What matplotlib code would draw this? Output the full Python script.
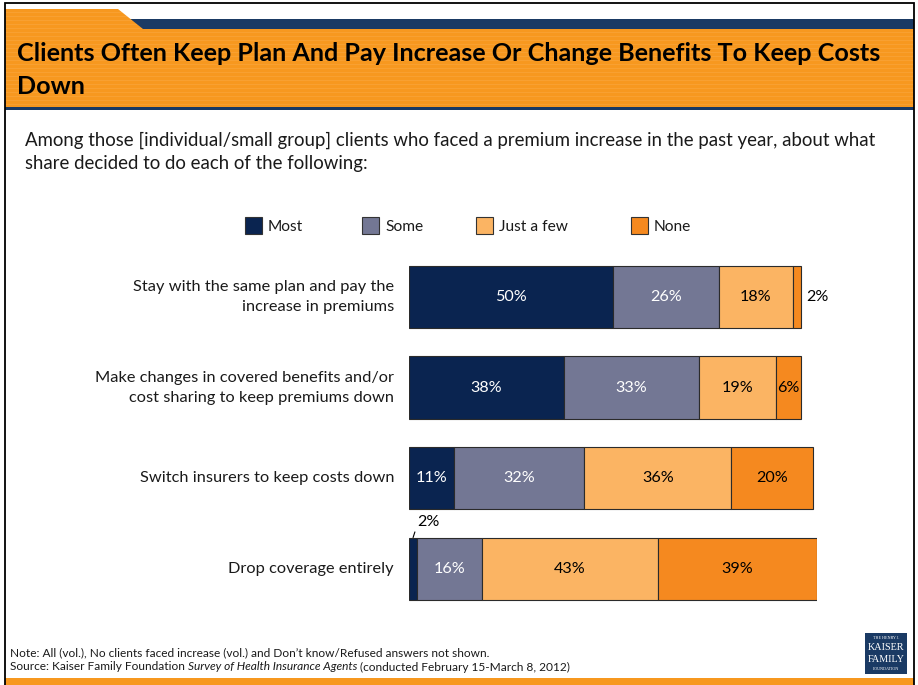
import matplotlib
matplotlib.use("Agg")
import matplotlib.pyplot as plt
from matplotlib.patches import Rectangle, Polygon

plt.rcParams['font.family'] = ['Lato', 'DejaVu Sans']

categories = [
    "Stay with the same plan and pay the\nincrease in premiums",
    "Make changes in covered benefits and/or\ncost sharing to keep premiums down",
    "Switch insurers to keep costs down",
    "Drop coverage entirely",
]
series_names = ["Most", "Some", "Just a few", "None"]
most = [50, 38, 11, 2]
some = [26, 33, 32, 16]
just_a_few = [18, 19, 36, 43]
none = [2, 6, 20, 39]
series_values = [most, some, just_a_few, none]
series_colors = ["#0a2450", "#737794", "#fbb463", "#f5891f"]
label_colors = ["white", "white", "black", "black"]

title = "Clients Often Keep Plan And Pay Increase Or Change Benefits To Keep Costs\nDown"
subtitle = ("Among those [individual/small group] clients who faced a premium increase in the past year, about what\n"
            "share decided to do each of the following:")

W, H = 918, 685
RIGHT = 914
fig = plt.figure(figsize=(W / 100, H / 100), dpi=100)

# Page furniture drawn in pixel coordinates
bg = fig.add_axes([0, 0, 1, 1])
bg.set_xlim(0, W)
bg.set_ylim(H, 0)
bg.axis("off")

header_orange = "#f7981f"
navy = "#1a3a64"
bg.add_patch(Rectangle((120, 19), RIGHT - 120, 10, facecolor=navy, edgecolor="none"))
bg.add_patch(Polygon([(5, 9), (118, 9), (143, 29), (143, 107), (5, 107)],
                     closed=True, facecolor=header_orange, edgecolor="none"))
bg.add_patch(Rectangle((5, 29), RIGHT - 5, 78, facecolor=header_orange, edgecolor="none"))
for yy in range(12, 106, 4):
    x0 = 5
    x1 = RIGHT if yy >= 29 else 118 + (143 - 118) * (yy - 9) / 20
    bg.add_patch(Rectangle((x0, yy), x1 - x0, 1.2, facecolor="#fbab48", edgecolor="none", alpha=0.45))
bg.add_patch(Rectangle((5, 107), RIGHT - 5, 3, facecolor=navy, edgecolor="none"))
bg.add_patch(Rectangle((5, 678), RIGHT - 5, 7, facecolor=header_orange, edgecolor="none"))
bg.plot([5, 5, RIGHT, RIGHT], [685, 3, 3, 685], color="black", lw=1.3, solid_joinstyle="miter")

bg.text(17, 70, title, fontsize=18.1, fontweight="bold", color="black",
        va="center", ha="left", linespacing=1.55)
bg.text(25, 152, subtitle, fontsize=13.4, color="#1a1a1a", va="center", ha="left",
        linespacing=1.45)

# Legend
legend_x = [245, 362, 476, 631]
for name, color, lx in zip(series_names, series_colors, legend_x):
    bg.add_patch(Rectangle((lx, 217), 17, 17, facecolor=color, edgecolor="#333333", lw=0.8))
    bg.text(lx + 23, 226.5, name, fontsize=11.2, va="center", ha="left", color="#1a1a1a")

# Footer
fs_foot = 8.55
bg.text(10, 653, "Note: All (vol.), No clients faced increase (vol.) and Don\u2019t know/Refused answers not shown.",
        fontsize=fs_foot, va="center", ha="left", color="#1a1a1a")
src = bg.text(10, 667, "Source: Kaiser Family Foundation ", fontsize=fs_foot, va="center", ha="left", color="#1a1a1a")
fig.canvas.draw()
r = fig.canvas.get_renderer()
bb = src.get_window_extent(r)
it = bg.annotate("Survey of Health Insurance Agents", xy=(bb.x1, H - 667), xycoords="figure pixels",
                 fontsize=fs_foot, style="italic", va="center", ha="left", color="#1a1a1a")
bb2 = it.get_window_extent(r)
bg.annotate(" (conducted February 15-March 8, 2012)", xy=(bb2.x1, H - 667), xycoords="figure pixels",
            fontsize=fs_foot, va="center", ha="left", color="#1a1a1a")

# Logo
bg.add_patch(Rectangle((865, 633), 42, 41, facecolor=navy, edgecolor="none"))
bg.text(886, 638, "THE HENRY J.", fontsize=3.0, color="white", ha="center", va="center", family="Liberation Serif")
bg.text(886, 647, "KAISER", fontsize=7.3, color="white", ha="center", va="center", family="Liberation Serif")
bg.text(886, 659, "FAMILY", fontsize=7.3, color="white", ha="center", va="center", family="Liberation Serif")
bg.text(886, 669, "FOUNDATION", fontsize=3.0, color="white", ha="center", va="center", family="Liberation Serif")

# Chart axes
ax_left, ax_right = 409, 817
ax_top, ax_bottom = 251.7, 614.1
ax = fig.add_axes([ax_left / W, (H - ax_bottom) / H, (ax_right - ax_left) / W, (ax_bottom - ax_top) / H])
ax.set_xlim(0, 100)
ax.set_ylim(3.5, -0.5)
ax.axis("off")
ax.patch.set_alpha(0)

ypos = list(range(len(categories)))
bar_h = 0.69
left = [0] * len(categories)
for vals, color, tcolor in zip(series_values, series_colors, label_colors):
    ax.barh(ypos, vals, left=left, height=bar_h, color=color, edgecolor="#2b2b2b", linewidth=0.8)
    for i, v in enumerate(vals):
        if v >= 5:
            ax.text(left[i] + v / 2, ypos[i], f"{v}%", ha="center", va="center",
                    fontsize=11.6, color=tcolor)
    left = [l + v for l, v in zip(left, vals)]

# Small segments labelled outside the bars
ax.text(sum(s[0] for s in series_values) + 1.3, 0, f"{none[0]}%", ha="left", va="center",
        fontsize=11.6, color="black")
ax.annotate(f"{most[3]}%", xy=(most[3] / 2, 3 - bar_h / 2), xytext=(2.0, 3 - bar_h / 2 - 0.17),
            ha="left", va="center", fontsize=11.6, color="black",
            arrowprops=dict(arrowstyle="-", color="black", lw=0.8, shrinkA=0, shrinkB=0,
                            relpos=(0, 0.3)))

# Category labels
for i, c in enumerate(categories):
    bg.text(394, 297 + i * 90.6, c, ha="right", va="center", fontsize=11.8, color="#1a1a1a",
            linespacing=1.55, multialignment="right")

fig.savefig("out.png", dpi=100)
